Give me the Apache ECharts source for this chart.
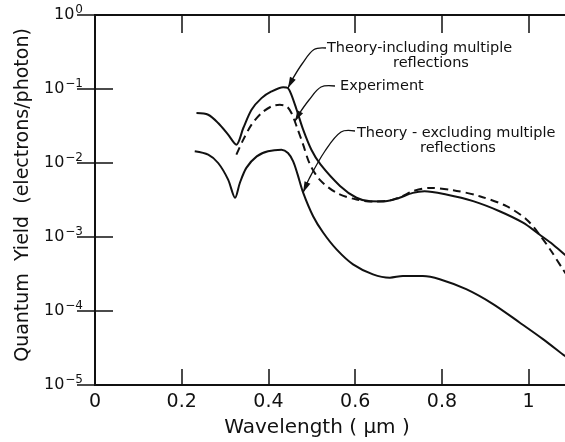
<!DOCTYPE html>
<html>
<head>
<meta charset="utf-8">
<script src="https://cdn.jsdelivr.net/npm/echarts@6/dist/echarts.min.js"></script>
<style>
  html, body { margin: 0; padding: 0; background: #fff; }
  #chart { width: 565px; height: 442px; }
</style>
</head>
<body>
<div id="chart"></div>
<script>
const FONT = 'DejaVu Sans';
const INK = '#111';

// Axis ranges and tick labels
const xTickLabels = ['0', '0.2', '0.4', '0.6', '0.8', '1'];
const xRange = [0, 1.1];
const yRange = [1e-5, 1];

// Theory including multiple reflections (wavelength in µm, quantum yield)
const inclWavelength = [0.234, 0.261, 0.284, 0.307, 0.326, 0.342, 0.361, 0.384, 0.407, 0.434, 0.445, 0.453, 0.465, 0.48, 0.499, 0.52, 0.565, 0.603, 0.635, 0.665, 0.695, 0.733, 0.76, 0.81, 0.872, 0.933, 0.987, 1.025, 1.056, 1.083, 1.1];
const inclYield = [0.0473, 0.0449, 0.0347, 0.0242, 0.0177, 0.0297, 0.0525, 0.0753, 0.0927, 0.106, 0.1028, 0.0836, 0.0525, 0.0282, 0.0151, 0.00955, 0.0049, 0.00339, 0.00303, 0.00302, 0.00328, 0.00395, 0.00416, 0.00375, 0.00305, 0.00223, 0.00156, 0.00108, 0.000794, 0.000582, 0.000479];

// Experiment
const expWavelength = [0.326, 0.342, 0.361, 0.384, 0.407, 0.426, 0.442, 0.453, 0.465, 0.48, 0.495, 0.518, 0.557, 0.603, 0.641, 0.68, 0.71, 0.733, 0.772, 0.826, 0.887, 0.949, 0.995, 1.025, 1.052, 1.079, 1.1];
const expYield = [0.013, 0.0207, 0.033, 0.0473, 0.0582, 0.0612, 0.0582, 0.0473, 0.0313, 0.0177, 0.0098, 0.00597, 0.00395, 0.00321, 0.00302, 0.00312, 0.0036, 0.00416, 0.00461, 0.00429, 0.00356, 0.00261, 0.00173, 0.00108, 0.000646, 0.000366, 0.00024];

// Theory excluding multiple reflections
const exclWavelength = [0.23, 0.261, 0.284, 0.307, 0.323, 0.334, 0.349, 0.373, 0.399, 0.43, 0.445, 0.457, 0.467, 0.48, 0.503, 0.526, 0.557, 0.595, 0.641, 0.68, 0.71, 0.756, 0.795, 0.856, 0.918, 0.979, 1.033, 1.083, 1.1];
const exclYield = [0.01439, 0.01297, 0.01, 0.00597, 0.00339, 0.00537, 0.00859, 0.0123, 0.01439, 0.01514, 0.01368, 0.01054, 0.00708, 0.00398, 0.00191, 0.00115, 0.00068, 0.000427, 0.000313, 0.000282, 0.000297, 0.000297, 0.000269, 0.000197, 0.000124, 0.00007, 0.0000417, 0.0000248, 0.0000209];

// Callout texts
const inclLabel = ['Theory-including multiple', 'reflections'];
const expLabel = ['Experiment'];
const exclLabel = ['Theory - excluding multiple', 'reflections'];
const xTitle = 'Wavelength ( \u03BCm )';
const yTitle = 'Quantum  Yield  (electrons/photon)';

const pairs = (xs, ys) => xs.map((x, i) => [x, ys[i]]);

const supText = (e) => (e < 0 ? '\u2212' + (-e) : String(e));

const chart = echarts.init(document.getElementById('chart'), null, { renderer: 'canvas' });

const axisLineStyle = { show: true, lineStyle: { color: INK, width: 2 } };

const lineSeries = (name, xs, ys, dashed) => ({
  name: name, type: 'line',
  data: pairs(xs, ys),
  smooth: 0.3, showSymbol: false, clip: true,
  lineStyle: { color: INK, width: 2, type: dashed ? [8, 5] : 'solid' }
});

const option = {
  backgroundColor: '#fff',
  animation: false,
  grid: { left: 95, top: 15, right: -7, bottom: 57, outerBoundsMode: 'none' },
  xAxis: [
    {
      type: 'value', min: xRange[0], max: xRange[1], interval: 0.2,
      position: 'bottom',
      axisLine: axisLineStyle,
      axisTick: { show: true, inside: true, length: 16, lineStyle: { color: INK, width: 1.5 } },
      splitLine: { show: false },
      axisLabel: {
        margin: 8, color: INK, fontFamily: FONT, fontSize: 19,
        formatter: (v) => {
          const i = Math.round(v / 0.2);
          return Math.abs(v - i * 0.2) < 1e-6 && i < xTickLabels.length ? xTickLabels[i] : '';
        }
      }
    },
    {
      type: 'value', min: xRange[0], max: xRange[1], interval: 0.2,
      position: 'top',
      axisLine: axisLineStyle,
      axisTick: { show: true, inside: true, length: 18, lineStyle: { color: INK, width: 1.5 } },
      splitLine: { show: false },
      axisLabel: { show: false }
    }
  ],
  yAxis: [
    {
      type: 'log', logBase: 10, min: yRange[0], max: yRange[1],
      position: 'left',
      axisLine: axisLineStyle,
      axisTick: { show: true, inside: true, length: 18, lineStyle: { color: INK, width: 1.5 } },
      minorTick: { show: false },
      splitLine: { show: false },
      axisLabel: {
        margin: 12, color: INK,
        formatter: (v) => '{b|10}{s|' + supText(Math.round(Math.log10(v))) + '}',
        rich: {
          b: { fontFamily: FONT, fontSize: 16, lineHeight: 16, verticalAlign: 'bottom', color: INK },
          s: { fontFamily: FONT, fontSize: 12, lineHeight: 12, padding: [0, 0, 10, 1], color: INK }
        }
      }
    },
    {
      type: 'log', logBase: 10, min: yRange[0], max: yRange[1],
      position: 'right',
      axisLine: axisLineStyle,
      axisTick: { show: true, inside: true, length: 18, lineStyle: { color: INK, width: 1.5 } },
      splitLine: { show: false },
      axisLabel: { show: false }
    }
  ],
  series: [
    lineSeries('Theory-including multiple reflections', inclWavelength, inclYield, false),
    lineSeries('Experiment', expWavelength, expYield, true),
    lineSeries('Theory-excluding multiple reflections', exclWavelength, exclYield, false)
  ]
};

chart.setOption(option);

// Callouts: leader lines run from each label to a point on its curve
function arrowHead(from, tip, len, half) {
  const dx = tip[0] - from[0], dy = tip[1] - from[1];
  const d = Math.hypot(dx, dy) || 1;
  const ux = dx / d, uy = dy / d;
  const bx = tip[0] - ux * len, by = tip[1] - uy * len;
  return {
    type: 'polygon', silent: true,
    shape: { points: [tip, [bx - uy * half, by + ux * half], [bx + uy * half, by - ux * half]] },
    style: { fill: INK }
  };
}

function leader(points, tip) {
  const pts = points.concat([tip]);
  return [
    { type: 'polyline', silent: true, shape: { points: pts, smooth: 0.35 }, style: { stroke: INK, lineWidth: 1.3, fill: null } },
    arrowHead(points[points.length - 1], tip, 11, 3.2)
  ];
}

function textAt(str, x, y) {
  return { type: 'text', silent: true, x: x, y: y,
    style: { text: str, font: '14.5px "' + FONT + '"', fill: INK, verticalAlign: 'middle', align: 'left' } };
}

const toPx = (pt) => chart.convertToPixel({ xAxisIndex: 0, yAxisIndex: 0 }, pt);

const inclTip = toPx([inclWavelength[10], inclYield[10]]);
const expTip = toPx([0.461, 0.0365]);
const exclTip = toPx([exclWavelength[13], exclYield[13]]);

const graphics = [].concat(
  textAt(inclLabel[0], 327, 48),
  textAt(inclLabel[1], 393, 63),
  textAt(expLabel[0], 340, 86),
  textAt(exclLabel[0], 357, 133),
  textAt(exclLabel[1], 420, 148),
  leader([[326, 48], [314, 49.5], [302, 64], [292, 80]], inclTip),
  leader([[335, 86], [321, 87], [309, 100], [299, 114]], expTip),
  leader([[355, 131], [341, 132], [325, 151], [309, 179]], exclTip),
  {
    type: 'text', silent: true, x: 23, y: 195, rotation: Math.PI / 2,
    style: { text: yTitle, font: '19px "' + FONT + '"', fill: INK, align: 'center', verticalAlign: 'middle' }
  },
  {
    type: 'text', silent: true, x: 317, y: 428,
    style: { text: xTitle, font: '20px "' + FONT + '"', fill: INK, align: 'center', verticalAlign: 'middle' }
  }
);

chart.setOption({ graphic: graphics });
</script>
</body>
</html>
